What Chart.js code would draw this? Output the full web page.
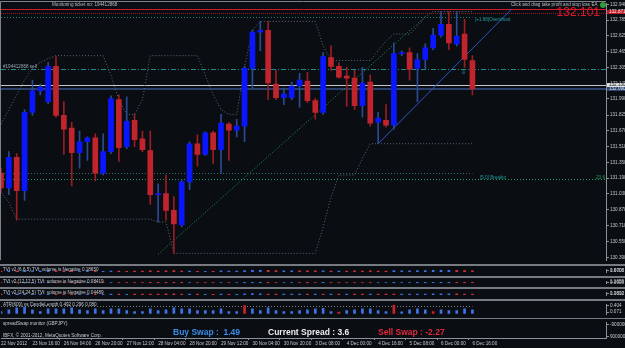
<!DOCTYPE html>
<html>
<head>
<meta charset="utf-8">
<script src="https://cdn.jsdelivr.net/npm/chart.js@4.4.1/dist/chart.umd.min.js"></script>
<style>
  html, body { margin: 0; padding: 0; background: #767b82; }
  #wrap { position: relative; width: 625px; height: 348px; overflow: hidden; background: #767b82; }
  canvas { position: absolute; left: 0; background: #0a0d12; }
</style>
</head>
<body>
<div id="wrap">
  <canvas id="cMain"   width="625" height="264" style="top:0px"></canvas>
  <canvas id="cTvi1"   width="625" height="10"  style="top:266px"></canvas>
  <canvas id="cTvi2"   width="625" height="9"   style="top:278px"></canvas>
  <canvas id="cTvi3"   width="625" height="10"  style="top:289px"></canvas>
  <canvas id="cAtr"    width="625" height="17"  style="top:301px"></canvas>
  <canvas id="cSpread" width="625" height="29"  style="top:319px"></canvas>
</div>
<script>
// GBPJPY H4
const timeLabels = ['22 Nov 2012', '23 Nov 16:00', '26 Nov 04:00', '26 Nov 20:00', '27 Nov 12:00',
  '28 Nov 04:00', '28 Nov 20:00', '29 Nov 12:00', '30 Nov 04:00', '30 Nov 20:00', '3 Dec 08:00',
  '4 Dec 00:00', '4 Dec 16:00', '5 Dec 08:00', '6 Dec 00:00', '6 Dec 16:00'];

const opens = [131.241, 131.092, 131.399, 131.063, 131.853, 132.071, 131.962, 132.318, 131.824, 131.695,
  131.448, 131.557, 131.596, 131.241, 131.458, 131.982, 131.507, 131.774, 131.586, 131.468,
  131.023, 131.033, 130.865, 130.717, 131.152, 131.537, 131.428, 131.646, 131.478, 131.735,
  131.675, 131.715, 132.298, 132.663, 132.683, 132.140, 132.001, 132.001, 132.120, 132.169,
  131.972, 131.853, 132.406, 132.318, 132.219, 132.199, 131.922, 132.159, 131.754, 131.774,
  131.725, 132.446, 132.456, 132.298, 132.387, 132.505, 132.634, 132.742, 132.545, 132.644, 132.377];
const highs = [131.290, 131.458, 131.438, 131.883, 132.179, 132.140, 132.357, 132.416, 131.962, 131.754,
  131.665, 131.606, 131.636, 131.636, 132.021, 132.031, 132.011, 131.833, 131.665, 131.665,
  131.132, 131.221, 131.004, 131.172, 131.557, 131.626, 131.656, 131.665, 131.833, 131.754,
  131.784, 132.318, 132.683, 132.772, 132.772, 132.278, 132.100, 132.159, 132.248, 132.258,
  131.992, 132.456, 132.525, 132.357, 132.308, 132.278, 132.308, 132.229, 131.853, 131.932,
  132.555, 132.476, 132.505, 132.446, 132.545, 132.703, 132.871, 132.871, 132.871, 132.792, 132.426];
const lows = [131.043, 131.023, 130.766, 130.964, 131.824, 132.031, 131.942, 131.804, 131.428, 131.112,
  131.290, 131.369, 131.162, 131.221, 131.438, 131.359, 131.488, 131.507, 131.458, 130.925,
  130.747, 130.766, 130.430, 130.697, 131.073, 131.310, 131.418, 131.339, 131.241, 131.369,
  131.606, 131.557, 132.100, 132.476, 131.982, 131.982, 131.932, 131.982, 131.903, 131.952,
  131.784, 131.833, 132.278, 132.199, 131.913, 131.883, 131.804, 131.715, 131.537, 131.705,
  131.685, 132.426, 132.179, 131.962, 132.298, 132.486, 132.614, 132.486, 132.525, 132.308, 132.031];
const closes = [131.092, 131.399, 131.063, 131.853, 132.071, 132.110, 132.318, 131.824, 131.685, 131.448,
  131.557, 131.596, 131.241, 131.458, 131.992, 131.498, 131.764, 131.577, 131.478, 131.023,
  131.033, 130.865, 130.727, 131.152, 131.537, 131.428, 131.646, 131.478, 131.745, 131.675,
  131.715, 132.298, 132.663, 132.683, 132.150, 132.001, 132.041, 132.120, 132.179, 131.972,
  131.853, 132.416, 132.318, 132.209, 132.199, 131.922, 132.150, 131.745, 131.794, 131.725,
  132.446, 132.456, 132.288, 132.387, 132.505, 132.634, 132.742, 132.555, 132.624, 132.387, 132.090];

// channel lines (dotted grey)
const upperBand = [131.735, 131.883, 132.031, 132.179, 132.298, 132.357, 132.397,
  132.426, 132.426, 132.426, 132.426, 132.426, 132.426, 132.426,
  132.229, 131.982, 131.833, 131.833, 131.982,
  132.426, 132.426, 132.426, 132.426, 132.426, 132.426, 132.426,
  132.229, 132.031, 131.883, 131.833, 131.833, 132.318, 132.683,
  132.772, 132.772, 132.772, 132.772, 132.772, 132.772, 132.772, 132.772,
  132.525, 132.377, 132.377, 132.377, 132.377, 132.377, 132.377,
  132.476, 132.574, 132.644, 132.644, 132.644, 132.723, 132.821,
  132.871, 132.871, 132.871, 132.871, 132.871, 132.871];
const lowerBand = [131.043, 130.944,
  130.776, 130.776, 130.776, 130.776, 130.776, 130.776, 130.776, 130.776, 130.776,
  130.776, 130.776, 130.776, 130.776, 130.776, 130.776, 130.776, 130.776, 130.776,
  130.747, 130.747,
  130.430, 130.430, 130.430, 130.430, 130.430, 130.430, 130.430, 130.430, 130.430, 130.430,
  130.430, 130.430, 130.430, 130.430, 130.430, 130.430, 130.430, 130.430, 130.430,
  130.697, 130.994, 131.221, 131.221, 131.221, 131.389,
  131.537, 131.537, 131.537, 131.537, 131.537, 131.537, 131.537, 131.537, 131.537, 131.537,
  131.537, 131.537, 131.537, 131.537];
const greenTrend = [{ x: '20', y: 130.420 }, { x: '54', y: 132.820 }];
const blueTrend = [{ x: '48', y: 131.537 }, { x: '65', y: 132.898 }];

// horizontal levels: price, last slot (null = full width)
const levelPrices = [132.900, 132.861, 132.812, 132.288, 132.130, 132.090, 131.241, 131.181];
const levelEnds   = [null, null, 60, null, null, null, 60, null];

const priceTicks = [132.940, 132.785, 132.625, 132.465, 132.305, 132.145, 131.990, 131.825, 131.670,
  131.510, 131.350, 131.190, 131.030, 130.870, 130.710, 130.550, 130.390];
const boxPrices = [132.871, 132.130, 132.090];
const boxTexts  = ['132.871', '132.130', '132.090'];

// sub windows: sign = colour (+ blue, - red), size = bar height
const tvi1 = [-0.3, 0.4, -0.3, 0.5, 0.4, 0.3, 0.5, -0.4, -0.3, -0.5, 0.2, 0.2, -0.3,
  0.2, 0.3, -0.3, -0.2, -0.3, -0.3, -0.4, -0.3, -0.4, -0.5, -0.3, 0.3, -0.2, 0.2, -0.2,
  0.4, 0.3, 0.3, 0.6, 0.9, 0.8, -0.7, -0.5, 0.4, 0.4, -0.4, -0.4, -0.4,
  0.4, -0.3, 0.3, -0.3, -0.4, -0.3, -0.4, -0.3, -0.3,
  0.5, 0.4, 0.4, 0.5, 0.6, 0.8, 0.9, 0.8, -0.7, -0.5, -0.4];
const tvi2 = [-0.3, 0.3, -0.3, 0.4, 0.4, 0.3, 0.4, -0.3, -0.3, -0.4, -0.2, 0.2, -0.3,
  -0.2, 0.3, -0.3, -0.3, -0.3, -0.3, -0.4, -0.4, -0.4, -0.5, -0.4, 0.3, -0.3, -0.2, -0.3,
  0.3, -0.2, 0.3, 0.5, 0.6, 0.5, -0.4, -0.3, 0.3, 0.3, -0.3, -0.4, -0.3,
  0.4, -0.3, -0.3, -0.3, -0.3, -0.3, -0.2, 0.2, 0.2,
  0.4, 0.3, 0.3, 0.4, 0.4, 0.5, 0.5, 0.5, -0.5, -0.4, -0.4];
const tvi3 = [-0.3, 0.3, 0.3, 0.4, 0.3, 0.3, 0.3, -0.3, -0.3, -0.3, 0.2, 0.2, -0.3,
  0.2, 0.3, -0.3, 0.2, -0.3, -0.3, -0.3, -0.3, -0.4, -0.4, -0.3, 0.3, -0.3, 0.2, -0.2,
  0.3, -0.2, 0.2, 0.4, 0.5, 0.4, -0.3, -0.3, 0.3, 0.3, 0.3, -0.3, 0.3,
  -0.3, 0.3, -0.3, 0.3, -0.3, -0.3, 0.3, -0.3, -0.3,
  -0.3, 0.3, 0.3, 0.3, 0.3, 0.4, 0.4, 0.4, -0.4, -0.3, -0.3];
const atr = [0.10, 0.20, 0.30, 0.35, 0.20, 0.10, 0.25, 0.25, 0.25, 0.30,
  0.20, 0.15, 0.25, 0.15, 0.25, 0.25, 0.15, 0.10, 0.10, 0.25,
  0.15, 0.20, 0.30, 0.25, 0.25, 0.15, 0.15, 0.15, 0.25, 0.10,
  0.10, 0.42, 0.25, 0.15, 0.30, 0.15, 0.10, 0.10, 0.15, 0.20,
  0.25, 0.28, 0.10, 0.07, 0.15, 0.20, 0.25, 0.25, 0.15, 0.10,
  0.45, 0.08, 0.20, 0.25, 0.20, 0.10, 0.20, 0.15, 0.15, 0.25, 0.20];
const atrHot = [31, 43, 50, 55];
const atrLevel = 0.41;

const FONT = '"Liberation Sans", Arial, sans-serif';
const AXIS = '#8a9097';
const TXT = '#c4c8cc';
const BULL = '#0a16ff', BEAR = '#c0242c';
const slotLabels = Array.from({ length: 78 }, (_, i) => String(i));

// ---------- plugins ----------
const textPlugin = {
  id: 'texts',
  afterDraw(chart, args, opts) {
    const ctx = chart.ctx;
    (opts.items || []).forEach(t => {
      ctx.save();
      ctx.font = t.font || ('4.6px ' + FONT);
      ctx.fillStyle = t.color || TXT;
      ctx.textBaseline = 'middle';
      ctx.textAlign = t.align || 'left';
      ctx.fillText(t.text, t.x, t.y);
      ctx.restore();
    });
  }
};

const levelsPlugin = {
  id: 'levels',
  beforeDatasetsDraw(chart, args, opts) {
    const { ctx, chartArea, scales } = chart;
    (opts.items || []).forEach(l => {
      const y = Math.round(scales.y.getPixelForValue(l.value)) + (l.width === 2 ? 0 : 0.5);
      const x2 = l.to == null ? chartArea.right : scales.x.getPixelForValue(l.to);
      ctx.save();
      ctx.strokeStyle = l.color;
      ctx.lineWidth = l.width || 1;
      ctx.setLineDash(l.dash || []);
      ctx.beginPath();
      ctx.moveTo(chartArea.left, y);
      ctx.lineTo(x2, y);
      ctx.stroke();
      ctx.restore();
    });
  }
};

const framePlugin = {
  id: 'frame',
  afterDraw(chart) {
    const { ctx, chartArea } = chart;
    ctx.save();
    ctx.strokeStyle = '#7c828a';
    ctx.lineWidth = 1;
    ctx.beginPath();
    ctx.moveTo(0.5, chartArea.bottom);
    ctx.lineTo(0.5, 1.5);
    ctx.lineTo(chartArea.right, 1.5);
    ctx.stroke();
    ctx.restore();
  }
};

const boxStyles = [
  { bg: '#c41a26', fg: '#f2f2f2' },
  { bg: '#d8dadc', fg: '#1a1a1a' },
  { bg: '#2c4470', fg: '#e4e6ea' }
];
const boxPlugin = {
  id: 'boxes',
  afterDraw(chart) {
    const { ctx, scales, chartArea } = chart;
    ctx.save();
    boxPrices.forEach((p, i) => {
      const y = scales.y.getPixelForValue(p);
      ctx.fillStyle = boxStyles[i].bg;
      ctx.fillRect(chartArea.right + 1, Math.round(y) - 2, 19, 4);
      ctx.fillStyle = boxStyles[i].fg;
      ctx.font = '4.6px ' + FONT;
      ctx.textBaseline = 'middle';
      ctx.fillText(boxTexts[i], chartArea.right + 3, Math.round(y));
    });
    // little green button next to the EA caption
    ctx.fillStyle = '#2f9c3c';
    ctx.beginPath();
    ctx.arc(603, 5, 3, 0, Math.PI * 2);
    ctx.fill();
    ctx.restore();
  }
};

// ---------- shared axis builders ----------
function xAxis(show) {
  const ax = {
    type: 'category', offset: false, display: show,
    grid: {
      display: true, drawOnChartArea: false, tickLength: 2,
      color: c => (c.index % 4 === 0 && c.index / 4 < timeLabels.length) ? AXIS : 'transparent'
    },
    border: { color: AXIS },
    ticks: {
      autoSkip: false, maxRotation: 0, minRotation: 0, align: 'start', padding: 1,
      color: TXT, font: { family: FONT, size: 4.6 },
      callback: (v, i) => (i % 4 === 0 ? (timeLabels[i / 4] || '') : '')
    }
  };
  if (show) ax.afterFit = s => { s.height = 10; };
  return ax;
}

function yAxis(min, max, vals, texts) {
  return {
    position: 'right', min: min, max: max,
    afterFit: s => { s.width = 19; },
    afterBuildTicks: s => { s.ticks = vals.map(v => ({ value: v })); },
    ticks: {
      autoSkip: false, padding: 1, color: TXT, font: { family: FONT, size: 4.6 },
      callback: (v, i) => texts[i]
    },
    grid: { drawOnChartArea: false, tickLength: 3, color: AXIS },
    border: { color: AXIS }
  };
}

function options(y, opt) {
  return {
    responsive: false, animation: false, events: [],
    layout: { autoPadding: false, padding: { left: 1, right: 0, top: opt.top || 0, bottom: 0 } },
    plugins: {
      legend: { display: false }, tooltip: { enabled: false },
      texts: { items: opt.texts || [] },
      levels: { items: opt.levels || [] }
    },
    scales: { x: xAxis(!!opt.time), y: y }
  };
}

// ---------- main price window ----------
const bodyColors = opens.map((o, i) => closes[i] >= o ? BULL : BEAR);
const wickColors = opens.map((o, i) => closes[i] >= o ? '#2b4a95' : '#9a1c24');

const levelStyles = [
  { color: '#d21c2c' },
  { color: '#8a1a22', dash: [1, 1] },
  { color: '#17857a', dash: [1, 2] },
  { color: '#1e8c8c', dash: [5, 2, 1, 2] },
  { color: '#c4c8cc' },
  { color: '#2a3f6a', width: 2 },
  { color: '#2a6f68', dash: [1, 2] },
  { color: '#1f9a5a', dash: [1, 2] }
];

new Chart(document.getElementById('cMain'), {
  type: 'bar',
  data: {
    labels: slotLabels,
    datasets: [
      { type: 'line', data: upperBand, borderColor: '#5d6875', borderWidth: 1, borderDash: [1, 2], pointRadius: 0, order: 5 },
      { type: 'line', data: lowerBand, borderColor: '#5d6875', borderWidth: 1, borderDash: [1, 2], pointRadius: 0, order: 5 },
      { type: 'line', data: greenTrend, borderColor: '#1d9a5c', borderWidth: 1, borderDash: [1, 2], pointRadius: 0, order: 4 },
      { type: 'line', data: blueTrend, borderColor: '#2c55c8', borderWidth: 1, pointRadius: 0, order: 4 },
      { data: lows.map((l, i) => [l, highs[i]]), backgroundColor: wickColors, barThickness: 1, grouped: false, order: 2 },
      { data: opens.map((o, i) => [o, closes[i]]), backgroundColor: bodyColors, barThickness: 5, minBarLength: 1, grouped: false, order: 1 }
    ]
  },
  options: options(yAxis(130.361, 132.950, priceTicks, priceTicks.map(v => v.toFixed(3))), {
    top: 2,
    levels: levelPrices.map((p, i) => Object.assign({ value: p, to: levelEnds[i] == null ? null : String(levelEnds[i]) }, levelStyles[i])),
    texts: [
      { text: 'Monitoring ticket no: 194412868', x: 52, y: 4.5, color: '#b8bcc0' },
      { text: 'Click and drag take profit and stop loss EA', x: 511, y: 5, color: '#b8bcc0' },
      { text: '132.101', x: 600, y: 12.5, align: 'right', color: '#e01828', font: '12px ' + FONT },
      { text: '[+1.68]Overshoot', x: 475, y: 20, color: '#1fa0a0' },
      { text: '#194412868 sell', x: 3, y: 66.5, color: '#9aa6b0' },
      { text: '\u21E9', x: 461, y: 72, color: '#22b0c8', font: '6px "DejaVu Sans"' },
      { text: '[5.0] Breakto', x: 480, y: 178, color: '#1f9a9a' },
      { text: '23.6', x: 605, y: 178, align: 'right', color: '#22a060' }
    ]
  }),
  plugins: [levelsPlugin, textPlugin, framePlugin, boxPlugin]
});

// ---------- indicator windows ----------
function histogram(id, values, colorOf, thick, y, opt) {
  return new Chart(document.getElementById(id), {
    type: 'bar',
    data: {
      labels: slotLabels,
      datasets: [{
        data: values.map(v => v == null ? null : Math.abs(v)),
        backgroundColor: values.map(colorOf),
        barThickness: thick
      }]
    },
    options: options(y, opt),
    plugins: [levelsPlugin, textPlugin]
  });
}

const tviColor = v => v >= 0 ? '#3b6fe0' : '#d0303a';
histogram('cTvi1', tvi1, tviColor, 2, yAxis(-0.35, 1.0, [0.73, 0.39], ['1.6708', '0.0000']),
  { texts: [{ text: 'TVI v2 (6,6,5) TVI: volume is Negative 0.18650', x: 3, y: 4 }] });
histogram('cTvi2', tvi2, tviColor, 2, yAxis(-0.3, 1.0, [0.71, 0.37], ['1.1659', '0.0000']),
  { texts: [{ text: 'TVI v2 (12,12,5) TVI: volume is Negative 0.08419', x: 3, y: 3.5 }] });
histogram('cTvi3', tvi3, tviColor, 2, yAxis(-0.35, 1.0, [0.73, 0.39], ['1.1812', '0.0000']),
  { texts: [{ text: 'TVI v2 (24,24,5) TVI: volume is Negative 0.04489', x: 3, y: 4 }] });

histogram('cAtr', atr, (v, i) => atrHot.includes(i) ? '#cc2230' : '#3f74e6', 2,
  yAxis(-0.045, 0.47, [0.404, 0.071], ['0.404', '0.071']),
  {
    texts: [{ text: 'ATR(600) vs CandleLength 0.492 0.296 0.080', x: 3, y: 3.5 }],
    levels: [{ value: atrLevel, to: '60', color: '#7a8088', dash: [1, 2] }]
  });

// ---------- spread/swap window with the time axis ----------
new Chart(document.getElementById('cSpread'), {
  type: 'bar',
  data: { labels: slotLabels, datasets: [{ data: [] }] },
  options: options(yAxis(-1, 1, [0.737, -0.789], ['-900000', '900000']), {
    time: true,
    texts: [
      { text: 'spreadSwap monitor (GBPJPY)', x: 3, y: 4.5 },
      { text: 'IBFX, \u00A9 2001-2012, MetaQuotes Software Corp.', x: 3, y: 17 },
      { text: 'Buy Swap :  1.49', x: 173, y: 14, color: '#3b8be8', font: 'bold 8.5px ' + FONT },
      { text: 'Current Spread : 3.6', x: 268, y: 14, color: '#ececec', font: 'bold 8.5px ' + FONT },
      { text: 'Sell Swap : -2.27', x: 378, y: 14, color: '#e0283c', font: 'bold 8.5px ' + FONT }
    ]
  }),
  plugins: [textPlugin]
});
</script>
</body>
</html>
